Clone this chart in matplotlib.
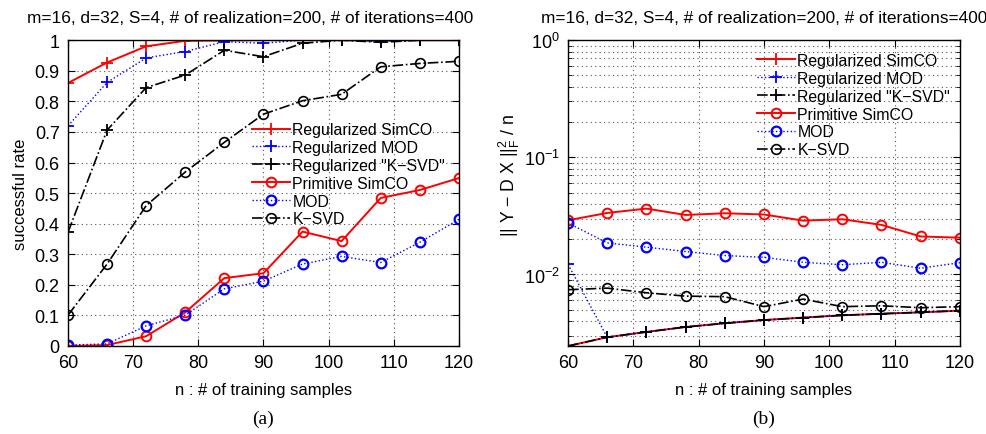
import matplotlib
matplotlib.use("Agg")
import matplotlib.pyplot as plt
from matplotlib.ticker import FormatStrFormatter, LogLocator
import numpy as np

plt.rcParams['font.family'] = ['Liberation Sans', 'DejaVu Sans']
plt.rcParams['mathtext.default'] = 'regular'

# training sample counts
n = [60, 66, 72, 78, 84, 90, 96, 102, 108, 114, 120]

# (a) successful rate
rate_reg_simco = [0.86, 0.927, 0.98, 0.998, 0.999, 1.0, 1.0, 1.0, 1.0, 1.0, 1.0]
rate_reg_mod = [0.72, 0.862, 0.942, 0.963, 0.995, 0.99, 1.0, 1.0, 0.995, 1.0, 1.0]
rate_reg_ksvd = [0.372, 0.706, 0.845, 0.886, 0.967, 0.946, 0.99, 1.0, 0.993, 1.0, 1.0]
rate_prim_simco = [0.0, 0.003, 0.032, 0.11, 0.222, 0.238, 0.374, 0.343, 0.484, 0.51, 0.549]
rate_mod = [0.003, 0.007, 0.066, 0.101, 0.187, 0.212, 0.268, 0.293, 0.273, 0.339, 0.414]
rate_ksvd = [0.101, 0.268, 0.459, 0.569, 0.666, 0.758, 0.802, 0.823, 0.913, 0.924, 0.931]

# (b) representation error
err_reg_simco = [0.00245, 0.00291, 0.00323, 0.00356, 0.00383, 0.00408, 0.00428, 0.00448, 0.00462, 0.00475, 0.00491]
err_reg_mod = [0.0122, 0.00291, 0.00323, 0.00356, 0.00383, 0.00408, 0.00428, 0.00448, 0.00462, 0.00475, 0.00491]
err_reg_ksvd = [0.00245, 0.00291, 0.00323, 0.00356, 0.00383, 0.00408, 0.00428, 0.00448, 0.00462, 0.00475, 0.00491]
err_prim_simco = [0.029, 0.0335, 0.0365, 0.0322, 0.0333, 0.0325, 0.0288, 0.0296, 0.0265, 0.0211, 0.0206]
err_mod = [0.0275, 0.0186, 0.0171, 0.0157, 0.0145, 0.0140, 0.0127, 0.0121, 0.0127, 0.0113, 0.0126]
err_ksvd = [0.00741, 0.00764, 0.00698, 0.00653, 0.00646, 0.00531, 0.00616, 0.00531, 0.0054, 0.0052, 0.00531]

labels = ['Regularized SimCO', 'Regularized MOD', 'Regularized "K\u2212SVD"',
          'Primitive SimCO', 'MOD', 'K\u2212SVD']
title = 'm=16, d=32, S=4, # of realization=200, # of iterations=400'

styles = [
    dict(color='red', ls='-', lw=1.4, marker='+', ms=8, mew=1.3),
    dict(color='blue', ls=':', lw=1.0, marker='+', ms=8, mew=1.3),
    dict(color='black', ls='-.', lw=1.2, marker='+', ms=8, mew=1.3),
    dict(color='red', ls='-', lw=1.4, marker='o', ms=7, mew=1.4, mfc='none'),
    dict(color='blue', ls=':', lw=1.0, marker='o', ms=7, mew=1.6, mfc='none'),
    dict(color='black', ls='-.', lw=1.2, marker='o', ms=7, mew=1.2, mfc='none'),
]

fig = plt.figure(figsize=(9.87, 4.35), dpi=100)
ax1 = fig.add_axes([0.0689, 0.2023, 0.396, 0.703])
ax2 = fig.add_axes([0.5755, 0.2023, 0.397, 0.703])

for data, st, lab in zip([rate_reg_simco, rate_reg_mod, rate_reg_ksvd,
                          rate_prim_simco, rate_mod, rate_ksvd], styles, labels):
    ax1.plot(n, data, label=lab, **st)

for data, st, lab in zip([err_reg_simco, err_reg_mod, err_reg_ksvd,
                          err_prim_simco, err_mod, err_ksvd], styles, labels):
    ax2.plot(n, data, label=lab, **st)

grid_kw = dict(color='#555555', ls=(0, (1, 3)), lw=0.8)

ax1.set_xlim(60, 120)
ax1.set_ylim(0, 1)
ax1.set_xticks(np.arange(60, 121, 10))
ax1.set_yticks(np.arange(0, 1.01, 0.1))
ax1.yaxis.set_major_formatter(FormatStrFormatter('%g'))
ax1.grid(True, which='major', **grid_kw)
ax1.set_ylabel('successful rate', fontsize=12, labelpad=5)

ax2.set_yscale('log')
ax2.set_xlim(60, 120)
ax2.set_ylim(0.00245, 1)
ax2.set_xticks(np.arange(60, 121, 10))
ax2.yaxis.set_major_locator(LogLocator(base=10, numticks=10))
ax2.yaxis.set_minor_locator(LogLocator(base=10, subs=np.arange(2, 10), numticks=20))
ax2.grid(True, which='major', **grid_kw)
ax2.grid(True, which='minor', **grid_kw)
ax2.set_ylabel('|| Y \u2212 D X ||$_F^2$ / n', fontsize=12.7, labelpad=1, y=0.56)

legend_pos = [(ax1, (0.4706, 0.732), '(a)', 0.467), (ax2, (0.482, 0.958), '(b)', 0.5)]
for ax, leg_anchor, cap, tx in legend_pos:
    ax.set_axisbelow(True)
    ax.tick_params(direction='in', top=True, right=True, labelsize=13, length=5, pad=6)
    ax.tick_params(which='minor', direction='in', top=True, right=True, length=3)
    ax.set_title(title, fontsize=12.4, pad=13, x=tx)
    ax.set_xlabel('n : # of training samples', fontsize=12, labelpad=8)
    for sp in ax.spines.values():
        sp.set_linewidth(1.0)
    ax.legend(loc='upper left', bbox_to_anchor=leg_anchor, frameon=False,
              fontsize=11.4, handlelength=2.4, handletextpad=0.15,
              labelspacing=0.18, borderpad=0, borderaxespad=0)
    bb = ax.get_position()
    fig.text(bb.x0 + bb.width / 2, 0.035, cap, ha='center', va='center',
             fontsize=14, family='Liberation Serif')

fig.savefig('out.png', dpi=100)
